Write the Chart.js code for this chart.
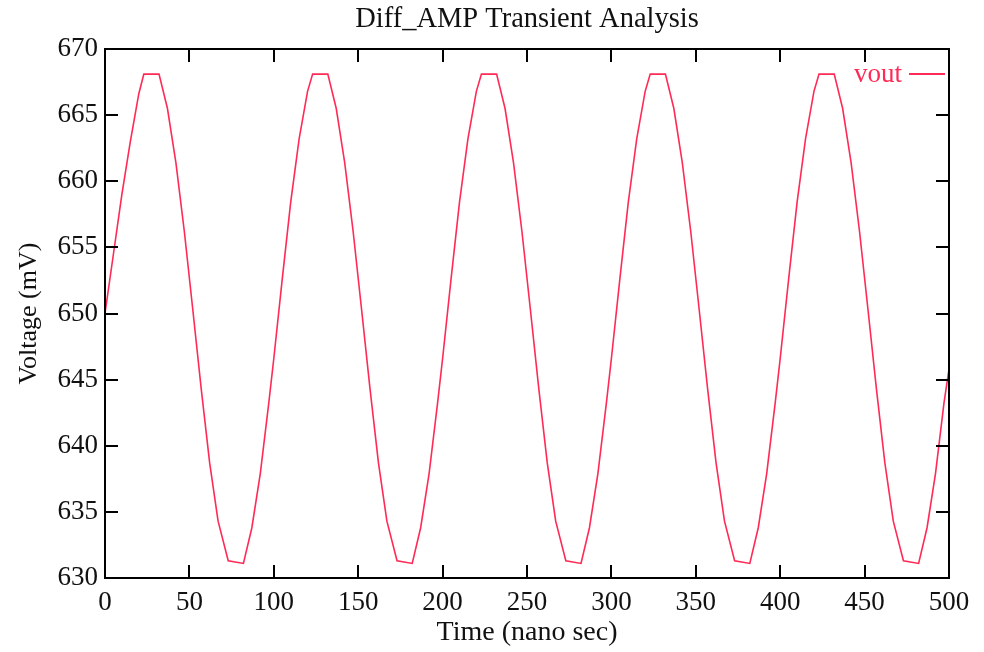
<!DOCTYPE html>
<html lang="en">
<head>
    <meta charset="UTF-8">
    <title>Diff_AMP Transient Analysis</title>
    <script src="https://cdn.jsdelivr.net/npm/chart.js"></script>
    <style>
        html, body { margin: 0; padding: 0; background: #fff; }
        #wrap { width: 984px; height: 652px; }
    </style>
</head>
<body>
    <div id="wrap"><canvas id="tran" width="984" height="652"></canvas></div>

    <script>
        // values (time in ns, vout in mV)
        const timeNs = [
            0, 5, 10, 15, 20, 23, 32, 37, 42, 47, 52, 57, 62, 67, 73, 82, 87, 92, 97,
            100, 105, 110, 115, 120, 123, 132, 137, 142, 147, 152, 157, 162, 167, 173, 182, 187, 192, 197,
            200, 205, 210, 215, 220, 223, 232, 237, 242, 247, 252, 257, 262, 267, 273, 282, 287, 292, 297,
            300, 305, 310, 315, 320, 323, 332, 337, 342, 347, 352, 357, 362, 367, 373, 382, 387, 392, 397,
            400, 405, 410, 415, 420, 423, 432, 437, 442, 447, 452, 457, 462, 467, 473, 482, 487, 492, 497,
            500
        ];
        const voutMv = [
            650.0, 654.5, 659.0, 663.0, 666.6, 668.1, 668.1, 665.5, 661.4, 656.2, 650.3, 644.3, 638.7, 634.3, 631.3, 631.1, 633.8, 637.9, 643.2,
            646.6, 652.6, 658.4, 663.2, 666.8, 668.1, 668.1, 665.5, 661.4, 656.2, 650.3, 644.3, 638.7, 634.3, 631.3, 631.1, 633.8, 637.9, 643.2,
            646.6, 652.6, 658.4, 663.2, 666.8, 668.1, 668.1, 665.5, 661.4, 656.2, 650.3, 644.3, 638.7, 634.3, 631.3, 631.1, 633.8, 637.9, 643.2,
            646.6, 652.6, 658.4, 663.2, 666.8, 668.1, 668.1, 665.5, 661.4, 656.2, 650.3, 644.3, 638.7, 634.3, 631.3, 631.1, 633.8, 637.9, 643.2,
            646.6, 652.6, 658.4, 663.2, 666.8, 668.1, 668.1, 665.5, 661.4, 656.2, 650.3, 644.3, 638.7, 634.3, 631.3, 631.1, 633.8, 637.9, 643.2,
            645.8
        ];
        const xRange = [0, 500];
        const yRange = [630, 670];
        const xStep = 50;
        const yStep = 5;

        const serif = 'Liberation Serif, Times New Roman, serif';
        const lineColor = '#ff2a55';

        // frame, inward tick marks, title and the in-plot legend
        const framePlugin = {
            id: 'frame',
            afterDraw(chart) {
                const { ctx, chartArea: a, scales } = chart;
                const len = 13;
                ctx.save();
                ctx.strokeStyle = '#000';
                ctx.lineWidth = 2;
                ctx.strokeRect(a.left, a.top, a.right - a.left, a.bottom - a.top);
                ctx.beginPath();
                scales.x.ticks.forEach(t => {
                    const px = Math.round(scales.x.getPixelForValue(t.value));
                    ctx.moveTo(px, a.bottom); ctx.lineTo(px, a.bottom - len);
                    ctx.moveTo(px, a.top); ctx.lineTo(px, a.top + len);
                });
                scales.y.ticks.forEach(t => {
                    const py = Math.round(scales.y.getPixelForValue(t.value));
                    ctx.moveTo(a.left, py); ctx.lineTo(a.left + len, py);
                    ctx.moveTo(a.right, py); ctx.lineTo(a.right - len, py);
                });
                ctx.stroke();

                ctx.fillStyle = '#111';
                ctx.font = '28.5px ' + serif;
                ctx.textAlign = 'center';
                ctx.textBaseline = 'middle';
                ctx.fillText('Diff_AMP Transient Analysis', (a.left + a.right) / 2, 20);

                // legend
                const ds = chart.data.datasets[0];
                const ly = a.top + 25;
                ctx.fillStyle = ds.borderColor;
                ctx.font = '27px ' + serif;
                ctx.textAlign = 'right';
                ctx.fillText(ds.label, a.right - 47, ly + 1);
                ctx.strokeStyle = ds.borderColor;
                ctx.lineWidth = 2;
                ctx.beginPath();
                ctx.moveTo(a.right - 40, ly);
                ctx.lineTo(a.right - 4, ly);
                ctx.stroke();
                ctx.restore();
            }
        };

        const points = timeNs.map((t, i) => ({ x: t, y: voutMv[i] }));

        new Chart(document.getElementById('tran').getContext('2d'), {
            type: 'line',
            data: {
                datasets: [{
                    label: 'vout',
                    data: points,
                    borderColor: lineColor,
                    borderWidth: 1.6,
                    pointRadius: 0,
                    fill: false,
                    tension: 0
                }]
            },
            options: {
                responsive: false,
                animation: false,
                layout: { padding: { top: 49, right: 35, bottom: 0, left: 0 } },
                plugins: {
                    legend: { display: false },
                    title: { display: false },
                    tooltip: { enabled: false }
                },
                scales: {
                    x: {
                        type: 'linear',
                        min: xRange[0],
                        max: xRange[1],
                        grid: { display: false, drawTicks: false },
                        border: { display: false },
                        ticks: {
                            stepSize: xStep,
                            padding: 9,
                            color: '#111',
                            maxRotation: 0,
                            font: { family: serif, size: 27 }
                        },
                        title: {
                            display: true,
                            text: 'Time (nano sec)',
                            color: '#111',
                            padding: { top: 0, bottom: 3 },
                            font: { family: serif, size: 28 }
                        },
                        afterFit(scale) { scale.height = 74; }
                    },
                    y: {
                        type: 'linear',
                        min: yRange[0],
                        max: yRange[1],
                        grid: { display: false, drawTicks: false },
                        border: { display: false },
                        ticks: {
                            stepSize: yStep,
                            padding: 7,
                            color: '#111',
                            font: { family: serif, size: 27 }
                        },
                        title: {
                            display: true,
                            text: 'Voltage (mV)',
                            color: '#111',
                            padding: { top: 14, bottom: 0 },
                            font: { family: serif, size: 26 }
                        },
                        afterFit(scale) { scale.width = 105; }
                    }
                }
            },
            plugins: [framePlugin]
        });
    </script>
</body>
</html>
